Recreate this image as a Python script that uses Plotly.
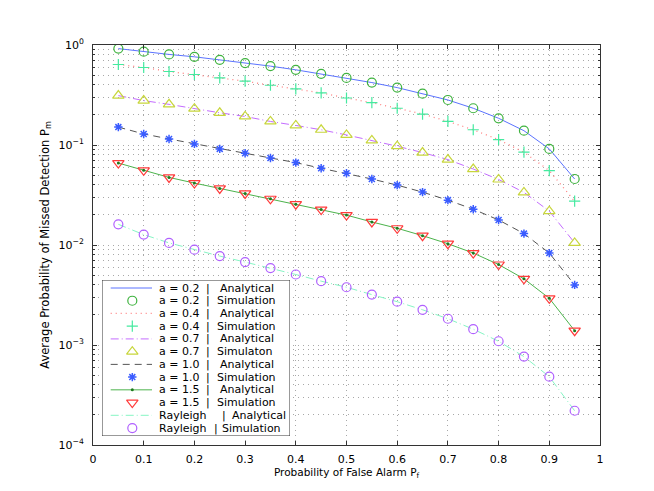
import plotly.graph_objects as go

# ---------------- data ----------------
pf = [0.05, 0.10, 0.15, 0.20, 0.25, 0.30, 0.35, 0.40, 0.45, 0.50,
      0.55, 0.60, 0.65, 0.70, 0.75, 0.80, 0.85, 0.90, 0.95]

pm_a02 = [0.92, 0.857, 0.805, 0.762, 0.711, 0.659, 0.615, 0.565, 0.515, 0.469,
          0.421, 0.375, 0.326, 0.282, 0.233, 0.185, 0.139, 0.0914, 0.0457]
pm_a04 = [0.638, 0.596, 0.543, 0.507, 0.469, 0.435, 0.396, 0.364, 0.332, 0.295,
          0.265, 0.233, 0.204, 0.172, 0.142, 0.113, 0.0847, 0.0554, 0.0274]
pm_a07 = [0.312, 0.278, 0.255, 0.231, 0.210, 0.193, 0.172, 0.157, 0.142, 0.126,
          0.111, 0.0973, 0.084, 0.0715, 0.0575, 0.0452, 0.0336, 0.0218, 0.0105]
pm_a10 = [0.151, 0.129, 0.115, 0.1026, 0.0914, 0.0827, 0.0742, 0.0667, 0.0585, 0.0521,
          0.0457, 0.0397, 0.0338, 0.0281, 0.0228, 0.0178, 0.0130, 0.0083, 0.00399]
pm_a15 = [0.066, 0.0558, 0.0474, 0.0416, 0.0368, 0.0328, 0.029, 0.0256, 0.0226, 0.0199,
          0.0170, 0.0147, 0.0124, 0.0103, 0.00831, 0.00638, 0.00459, 0.00293, 0.00139]
pm_ray = [0.0161, 0.0127, 0.0105, 0.00897, 0.00775, 0.00675, 0.00588, 0.00507, 0.00435, 0.00378,
          0.00319, 0.00271, 0.00225, 0.00183, 0.00144, 0.00109, 0.000766, 0.000482, 0.000220]

ytick_vals = [1e-4, 1e-3, 1e-2, 1e-1, 1]
ytick_text = ["10<sup>\u22124</sup>", "10<sup>\u22123</sup>", "10<sup>\u22122</sup>",
              "10<sup>\u22121</sup>", "10<sup>0</sup>"]
xtick_vals = [0, 0.1, 0.2, 0.3, 0.4, 0.5, 0.6, 0.7, 0.8, 0.9, 1]
xtick_text = ["0", "0.1", "0.2", "0.3", "0.4", "0.5", "0.6", "0.7", "0.8", "0.9", "1"]

# legend text, split in the three columns MATLAB lines up
legend_left = ["a = 0.2", "a = 0.2", "a = 0.4", "a = 0.4", "a = 0.7", "a = 0.7",
               "a = 1.0", "a = 1.0", "a = 1.5", "a = 1.5", "Rayleigh", "Rayleigh"]
legend_right = ["Analytical", "Simulation", "Analytical", "Simulation", "Analytical", "Simulaton",
                "Analytical", "Simulation", "Analytical", "Simulation", "Analytical", "Simulation"]

# ---------------- styles (one per legend row) ----------------
curves = [pm_a02, pm_a02, pm_a04, pm_a04, pm_a07, pm_a07,
          pm_a10, pm_a10, pm_a15, pm_a15, pm_ray, pm_ray]

styles = [
    dict(mode="lines", line=dict(color="#5b73ff", width=1)),
    dict(mode="markers", marker=dict(symbol="circle-open", size=9, color="#3fb33f",
                                     line=dict(width=1.2))),
    dict(mode="lines", line=dict(color="#ff7f7f", width=1.3, dash="1px,4px")),
    dict(mode="markers", marker=dict(symbol="cross-thin-open", size=8, color="#45eaa0",
                                     line=dict(width=1.2, color="#45eaa0"))),
    dict(mode="lines", line=dict(color="#c46cff", width=1, dash="8px,3px,1px,3px")),
    dict(mode="markers", marker=dict(symbol="triangle-up-open", size=10, color="#c8d63c",
                                     line=dict(width=1.2))),
    dict(mode="lines", line=dict(color="#555555", width=1, dash="7px,5px")),
    dict(mode="markers", marker=dict(symbol="asterisk-open", size=7, color="#3a5cff",
                                     line=dict(width=1.5, color="#3a5cff"))),
    dict(mode="lines+markers", line=dict(color="#4cb34c", width=1),
         marker=dict(symbol="circle", size=3, color="#1e7a1e")),
    dict(mode="markers", marker=dict(symbol="triangle-down-open", size=10, color="#ff3b3b",
                                     line=dict(width=1.2))),
    dict(mode="lines", line=dict(color="#86f5c4", width=1, dash="8px,3px,1px,3px")),
    dict(mode="markers", marker=dict(symbol="circle-open", size=9, color="#b060ff",
                                     line=dict(width=1.2))),
]

FONT = "DejaVu Sans"

fig = go.Figure()

for left, right, yv, st in zip(legend_left, legend_right, curves, styles):
    fig.add_trace(go.Scatter(x=pf, y=yv, name=f"{left} | {right}", showlegend=False, **st))

# ---------------- hand made MATLAB style legend ----------------
# the legend sits on its own small axes, measured in pixels of the box
box_w, box_h = 188, 156
row_h = 12.73
row_top = 8
line_x = [8.7, 50]
mark_x = 30.3
text_x = 55.3
bar_x = [106] * 10 + [122, 113.7]
right_x = [116, 112.7] * 5 + [128, 117.7]

fig.add_trace(go.Scatter(x=[0, box_w, box_w, 0, 0], y=[0, 0, box_h, box_h, 0],
                         mode="lines", fill="toself", fillcolor="white",
                         line=dict(color="#333333", width=1),
                         xaxis="x2", yaxis="y2", showlegend=False, hoverinfo="skip"))

lfont = dict(family=FONT, size=11, color="black")
for i, st in enumerate(styles):
    yc = row_top + row_h * i
    if "lines" in st["mode"]:
        fig.add_trace(go.Scatter(x=line_x, y=[yc, yc], mode="lines", line=st["line"],
                                 xaxis="x2", yaxis="y2", showlegend=False, hoverinfo="skip"))
    if "markers" in st["mode"]:
        fig.add_trace(go.Scatter(x=[mark_x], y=[yc], mode="markers", marker=st["marker"],
                                 xaxis="x2", yaxis="y2", showlegend=False, hoverinfo="skip"))
    fig.add_annotation(x=text_x, y=yc, text=legend_left[i], xanchor="left")
    fig.add_annotation(x=bar_x[i], y=yc, text="|", xanchor="center")
    fig.add_annotation(x=right_x[i], y=yc, text=legend_right[i], xanchor="left")

fig.update_annotations(xref="x2", yref="y2", showarrow=False, yanchor="middle", font=lfont)

grid_col = "#a8a8a8"
axis_col = "#333333"

fig.update_layout(
    xaxis=dict(range=[0, 1], tickvals=xtick_vals, ticktext=xtick_text,
               showgrid=True, gridcolor=grid_col, griddash="1px,4px", gridwidth=1,
               ticks="inside", ticklen=4, tickcolor=axis_col, ticklabelstandoff=4,
               showline=True, linecolor=axis_col, linewidth=1, mirror="ticks",
               zeroline=False, tickfont=dict(family=FONT, size=11),
               title=dict(text="Probability of False Alarm P<sub>f</sub>", standoff=3,
                          font=dict(family=FONT, size=10.5))),
    yaxis=dict(type="log", range=[-4, 0], tickvals=ytick_vals, ticktext=ytick_text,
               showgrid=True, gridcolor=grid_col, griddash="1px,4px", gridwidth=1,
               ticks="inside", ticklen=4, tickcolor=axis_col, ticklabelstandoff=6,
               minor=dict(showgrid=True, gridcolor=grid_col, griddash="1px,4px",
                          ticks="inside", ticklen=2, tickcolor=axis_col, dtick="D1"),
               showline=True, linecolor=axis_col, linewidth=1, mirror="ticks",
               zeroline=False, tickfont=dict(family=FONT, size=11),
               title=dict(text="Average Probability of Missed Detection P<sub>m</sub>",
                          standoff=6, font=dict(family=FONT, size=11.5))),
    xaxis2=dict(domain=[9 / 507, 197 / 507], range=[0, box_w], anchor="y2",
                visible=False, fixedrange=True),
    yaxis2=dict(domain=[9 / 400, 165 / 400], range=[box_h, 0], anchor="x2",
                visible=False, fixedrange=True),
    width=654, height=491,
    margin=dict(l=85, r=62, t=37, b=54),
    paper_bgcolor="white", plot_bgcolor="white",
    font=dict(family=FONT, size=11, color="black"),
    showlegend=False,
)

fig.write_html("out.html")
